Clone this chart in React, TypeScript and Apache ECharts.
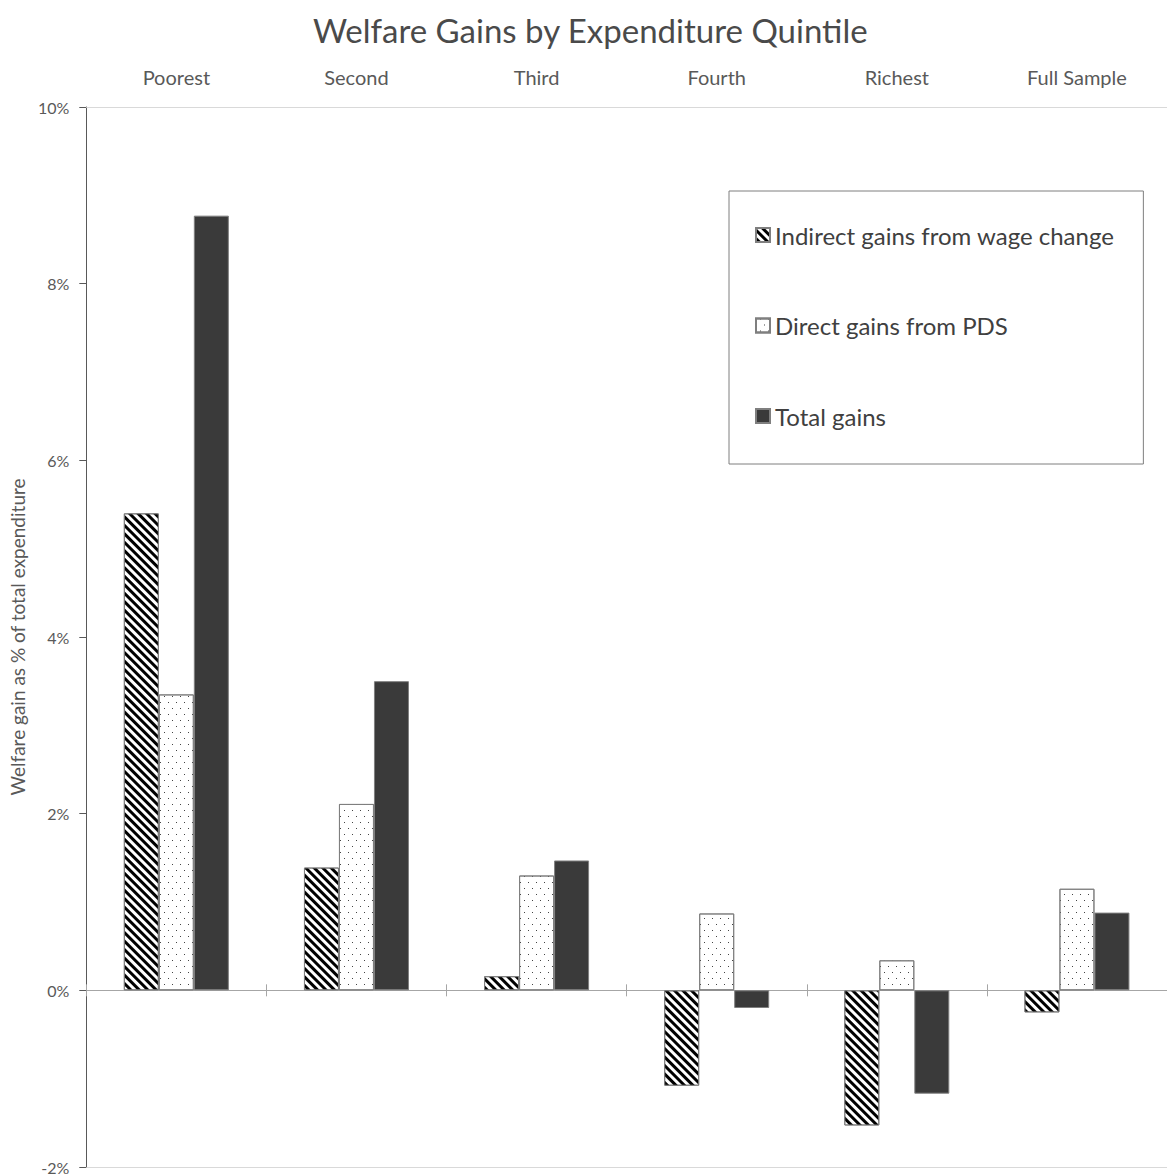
import React, { useEffect, useRef } from 'react';
import * as echarts from 'echarts';

const categories = ['Poorest', 'Second', 'Third', 'Fourth', 'Richest', 'Full Sample'];
const seriesNames = ['Indirect gains from wage change', 'Direct gains from PDS', 'Total gains'];
const indirectGains = [5.4, 1.39, 0.16, -1.08, -1.53, -0.25];
const directGains = [3.35, 2.11, 1.3, 0.87, 0.34, 1.15];
const totalGains = [8.77, 3.5, 1.47, -0.2, -1.17, 0.88];
const yMin = -2;
const yMax = 10;
const yStep = 2;

const FONT = 'Lato';

export default function App() {
  const ref = useRef<HTMLDivElement>(null);
  useEffect(() => {
    if (!ref.current) return;
    const chart = echarts.init(ref.current, null, { renderer: 'svg' });
    const barBase = {
      type: 'bar' as const,
      xAxisIndex: 0,
      yAxisIndex: 0,
      barWidth: 35,
      barGap: '0%',
    };
    chart.setOption({
      animation: false,
      backgroundColor: '#ffffff',
      title: {
        text: 'Welfare Gains by Expenditure Quintile',
        left: 308,
        top: 8,
        textStyle: { fontFamily: FONT, fontSize: 33, fontWeight: 'normal', color: '#4a4a4a' },
      },
      legend: {
        orient: 'vertical',
        left: 729,
        top: 191,
        padding: [32, 29, 36, 26],
        itemGap: 66.5,
        itemWidth: 14,
        itemHeight: 14,
        icon: 'rect',
        borderColor: '#7f7f7f',
        borderWidth: 1,
        textStyle: { fontFamily: FONT, fontSize: 24, lineHeight: 22, color: '#404040' },
        data: seriesNames,
      },
      grid: { left: 85, right: 0, top: 107, bottom: 4, containLabel: false },
      xAxis: [
        {
          type: 'category',
          data: categories,
          position: 'bottom',
          axisLine: { show: true, onZero: true, onZeroAxisIndex: 0, lineStyle: { color: '#a6a6a6', width: 1 } },
          axisTick: { show: true, inside: false, length: 6, lineStyle: { color: '#a6a6a6' } },
          axisLabel: { show: false },
          splitLine: { show: false },
        },
        {
          type: 'category',
          data: categories,
          position: 'top',
          axisLine: { show: true, onZero: false, lineStyle: { color: '#d9d9d9', width: 1 } },
          axisTick: { show: false },
          axisLabel: { show: true, fontFamily: FONT, fontSize: 20, color: '#595959', margin: 20 },
          splitLine: { show: false },
        },
        {
          type: 'category',
          data: categories,
          position: 'bottom',
          axisLine: { show: true, onZero: false, lineStyle: { color: '#d9d9d9', width: 1 } },
          axisTick: { show: false },
          axisLabel: { show: false },
          splitLine: { show: false },
        },
        {
          type: 'category',
          data: categories,
          position: 'bottom',
          axisLine: { show: false, onZero: true, onZeroAxisIndex: 0 },
          axisTick: { show: true, inside: true, length: 6, lineStyle: { color: '#a6a6a6' } },
          axisLabel: { show: false },
          splitLine: { show: false },
        },
      ],
      yAxis: [
        {
          type: 'value',
          min: yMin,
          max: yMax,
          interval: yStep,
          name: 'Welfare gain as % of total expenditure',
          nameLocation: 'middle',
          nameGap: 56,
          nameRotate: 90,
          nameTextStyle: { fontFamily: FONT, fontSize: 19, color: '#595959' },
          axisLine: { show: true, lineStyle: { color: '#595959', width: 1 } },
          axisTick: { show: true, length: 7, lineStyle: { color: '#595959' } },
          axisLabel: { formatter: '{value}%', fontFamily: FONT, fontSize: 16, color: '#595959', margin: 17 },
          splitLine: { show: false },
        },
      ],
      series: [
        {
          ...barBase,
          name: seriesNames[0],
          data: indirectGains,
          itemStyle: {
            color: '#ffffff',
            borderColor: '#7f7f7f',
            borderWidth: 1,
            decal: {
              symbol: 'rect',
              symbolSize: 1,
              color: '#000000',
              dashArrayX: [1, 0],
              dashArrayY: [2.5, 2.5],
              rotation: Math.PI / 4,
            },
          },
        },
        {
          ...barBase,
          name: seriesNames[1],
          data: directGains,
          itemStyle: {
            color: '#ffffff',
            borderColor: '#7f7f7f',
            borderWidth: 1,
            decal: {
              symbol: 'rect',
              symbolSize: 1,
              color: '#444444',
              dashArrayX: [[1, 7], [0, 4, 1, 3]],
              dashArrayY: [1, 5],
              rotation: 0,
            },
          },
        },
        {
          ...barBase,
          name: seriesNames[2],
          data: totalGains,
          itemStyle: { color: '#3a3a3a', borderColor: '#7f7f7f', borderWidth: 1 },
        },
      ],
    });
    return () => chart.dispose();
  }, []);
  return (
    <div
      ref={ref}
      style={{ position: 'absolute', left: 0, top: 0, width: 1167, height: 1175 }}
    />
  );
}
